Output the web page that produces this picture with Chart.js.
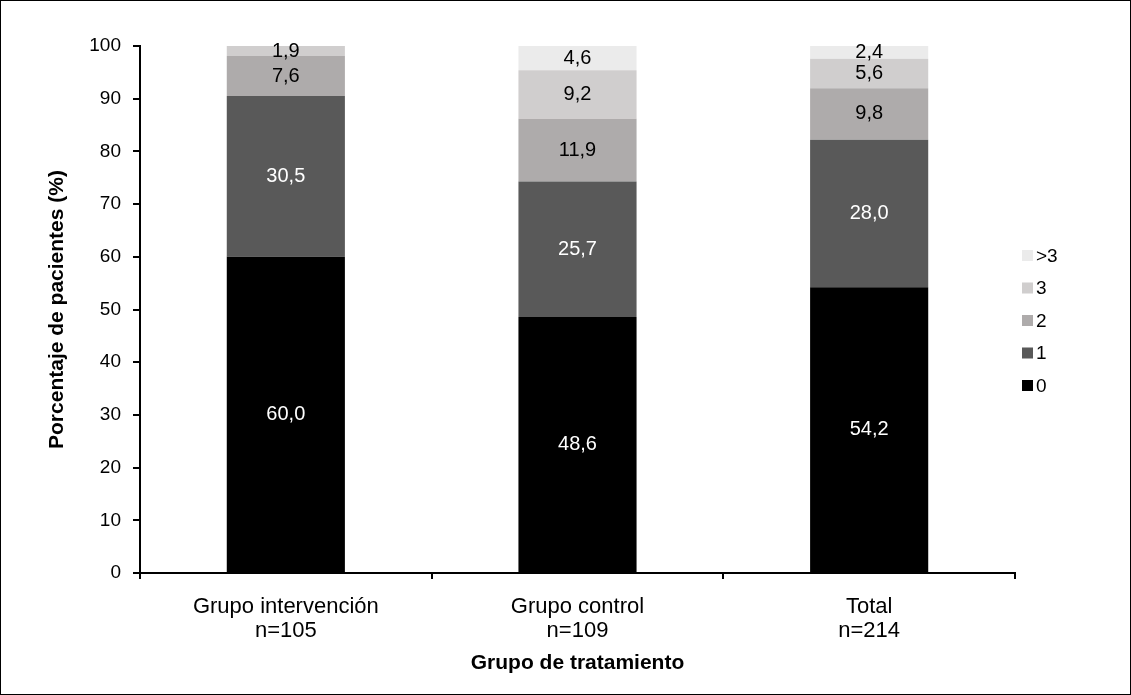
<!DOCTYPE html>
<html>
<head>
<meta charset="utf-8">
<script src="https://cdn.jsdelivr.net/npm/chart.js@4.4.0/dist/chart.umd.min.js"></script>
<style>
  html, body { margin: 0; padding: 0; background: #fff; }
  #frame { width: 1131px; height: 695px; box-sizing: border-box; border: 1px solid #000; }
  #wrap { position: relative; width: 1129px; height: 693px; }
</style>
</head>
<body>
<div id="frame"><div id="wrap"><canvas id="chart"></canvas></div></div>
<script>
// data
const categories = [["Grupo intervención", "n=105"], ["Grupo control", "n=109"], ["Total", "n=214"]];
const seriesNames = ["0", "1", "2", "3", ">3"];
const values0 = [60.0, 48.6, 54.2];
const values1 = [30.5, 25.7, 28.0];
const values2 = [7.6, 11.9, 9.8];
const values3 = [1.9, 9.2, 5.6];
const valuesOver3 = [0, 4.6, 2.4];
const seriesValues = [values0, values1, values2, values3, valuesOver3];
const seriesColors = ["#000000", "#595959", "#aeabab", "#d0cece", "#ebebeb"];
const labelColors = ["#ffffff", "#ffffff", "#000000", "#000000", "#000000"];

const FONT = "'Liberation Sans', Arial, sans-serif";
Chart.defaults.font.family = FONT;
Chart.defaults.color = "#000";

const fmt = (v) => v.toFixed(1).replace(".", ",");

// value labels inside segments
const segmentLabels = {
  id: "segmentLabels",
  afterDatasetsDraw(chart) {
    const ctx = chart.ctx;
    ctx.save();
    ctx.font = "20px " + FONT;
    ctx.textAlign = "center";
    ctx.textBaseline = "middle";
    chart.data.datasets.forEach((ds, i) => {
      const meta = chart.getDatasetMeta(i);
      meta.data.forEach((bar, j) => {
        const v = ds.data[j];
        if (!v) return;
        ctx.fillStyle = labelColors[i];
        ctx.fillText(fmt(v), bar.x, (bar.y + bar.base) / 2);
      });
    });
    ctx.restore();
  },
};

// legend on the right, top item is the last series
const sideLegend = {
  id: "sideLegend",
  afterDraw(chart) {
    const ctx = chart.ctx;
    ctx.save();
    ctx.font = "19px " + FONT;
    ctx.textBaseline = "middle";
    ctx.textAlign = "left";
    const n = chart.data.datasets.length;
    for (let k = 0; k < n; k++) {
      const ds = chart.data.datasets[n - 1 - k];
      const cy = 254.5 + k * 32.5;
      ctx.fillStyle = ds.backgroundColor;
      ctx.fillRect(1021, cy - 5.5, 11, 11);
      ctx.fillStyle = "#000";
      ctx.fillText(ds.label, 1035, cy + 1);
    }
    ctx.restore();
  },
};

const datasets = seriesNames.map((name, i) => ({
  label: name,
  data: seriesValues[i],
  backgroundColor: seriesColors[i],
  borderWidth: 0,
  barPercentage: 0.405,
  categoryPercentage: 1.0,
}));

new Chart(document.getElementById("chart"), {
  type: "bar",
  data: { labels: categories, datasets },
  plugins: [segmentLabels, sideLegend],
  options: {
    responsive: true,
    maintainAspectRatio: false,
    animation: false,
    layout: { padding: { top: 45, right: 115, bottom: 0, left: 0 } },
    plugins: { legend: { display: false }, tooltip: { enabled: false } },
    scales: {
      x: {
        stacked: true,
        grid: { drawOnChartArea: false, tickLength: 6, color: "#000", lineWidth: 2 },
        border: { color: "#000", width: 2 },
        ticks: { color: "#000", font: { size: 22, lineHeight: 24 / 22 }, padding: 16, maxRotation: 0 },
        title: {
          display: true,
          text: "Grupo de tratamiento",
          color: "#000",
          font: { size: 21, weight: "bold" },
          padding: { top: 0, bottom: 18 },
        },
        afterFit: (s) => { s.height = 121; },
      },
      y: {
        stacked: true,
        min: 0,
        max: 100,
        grid: { drawOnChartArea: false, tickLength: 7, color: "#000", lineWidth: 2 },
        border: { color: "#000", width: 2 },
        ticks: { stepSize: 10, color: "#000", font: { size: 19 }, padding: 12 },
        title: {
          display: true,
          text: "Porcentaje de pacientes (%)",
          color: "#000",
          font: { size: 21, weight: "bold" },
          padding: { top: 44, bottom: 0 },
        },
        afterFit: (s) => { s.width = 139; },
      },
    },
  },
});
</script>
</body>
</html>
